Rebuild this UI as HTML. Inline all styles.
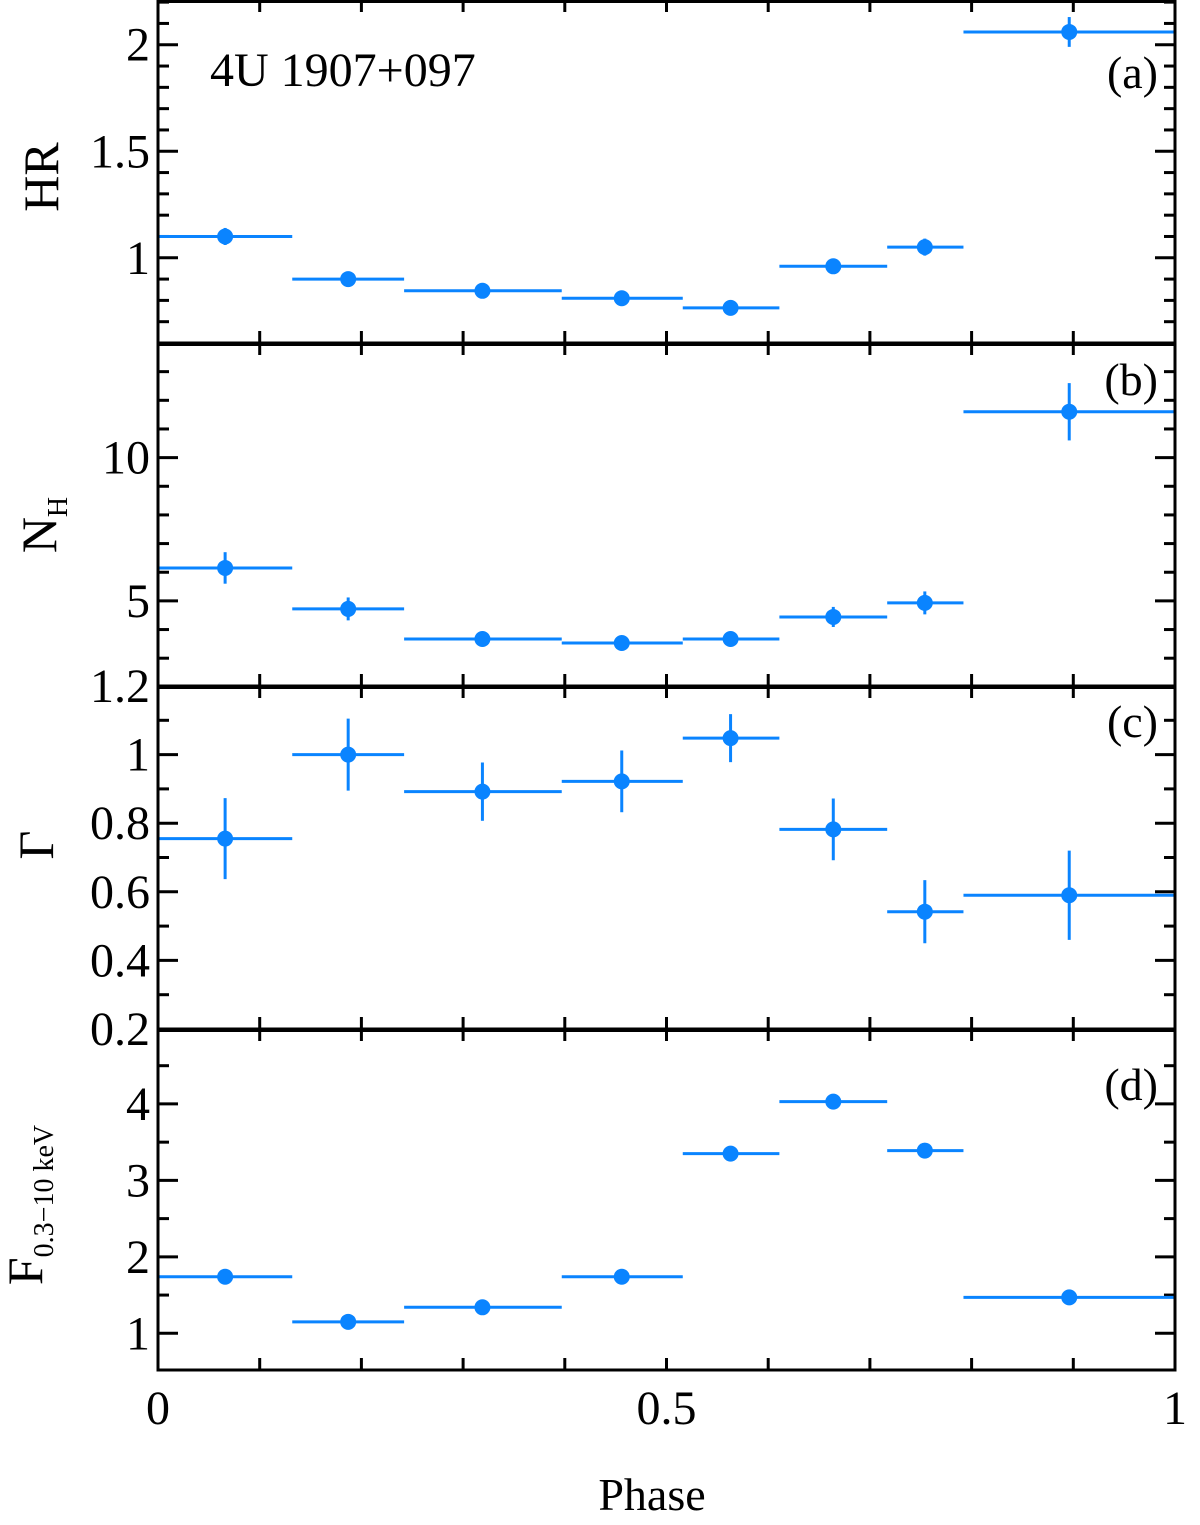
<!DOCTYPE html>
<html><head><meta charset="utf-8"><style>
html,body{margin:0;padding:0;background:#fff;}
svg{display:block;font-family:"Liberation Serif",serif;}
</style></head><body>
<svg id="chart" width="1200" height="1525" viewBox="0 0 1200 1525" xmlns="http://www.w3.org/2000/svg"></svg>
<script>
const binLo = [0, 0.132, 0.242, 0.397, 0.516, 0.611, 0.717, 0.792];
const binHi = [0.132, 0.242, 0.397, 0.516, 0.611, 0.717, 0.792, 1.0];
const phaseCenters = [0.066, 0.187, 0.319, 0.456, 0.563, 0.664, 0.754, 0.896];
const hrValues = [1.10, 0.90, 0.845, 0.81, 0.765, 0.96, 1.05, 2.06];
const hrErrors = [0.04, 0.03, 0.03, 0.03, 0.02, 0.03, 0.04, 0.07];
const nhValues = [6.15, 4.72, 3.67, 3.53, 3.67, 4.44, 4.93, 11.6];
const nhErrors = [0.55, 0.4, 0.25, 0.25, 0.25, 0.35, 0.4, 1.0];
const gammaValues = [0.755, 1.0, 0.892, 0.922, 1.048, 0.782, 0.542, 0.59];
const gammaErrors = [0.118, 0.105, 0.085, 0.09, 0.07, 0.09, 0.092, 0.13];
const fluxValues = [1.74, 1.15, 1.34, 1.74, 3.35, 4.03, 3.39, 1.47];
const fluxErrors = [0.04, 0.03, 0.03, 0.04, 0.06, 0.08, 0.06, 0.04];
const xTicks = [0, 0.5, 1];
const xTickLabels = ["0", "0.5", "1"];

const NS = "http://www.w3.org/2000/svg";
const svg = document.getElementById("chart");
const X0 = 158, X1 = 1175;
const xs = v => X0 + v * (X1 - X0);
function el(tag, attrs, parent) {
  const e = document.createElementNS(NS, tag);
  for (const k in attrs) e.setAttribute(k, attrs[k]);
  (parent || svg).appendChild(e);
  return e;
}
const panels = [
  {key:"hr", top:0, bot:343, min:0.6, max:2.21, vals:hrValues, errs:hrErrors, major:[1,1.5,2], labels:["1","1.5","2"], minor:0.1, tag:"(a)", tagY:88},
  {key:"nh", top:343, bot:686, min:2.03, max:14.0, vals:nhValues, errs:nhErrors, major:[5,10], labels:["5","10"], minor:1, tag:"(b)", tagY:52},
  {key:"gamma", top:686, bot:1029, min:0.2, max:1.2, vals:gammaValues, errs:gammaErrors, major:[0.2,0.4,0.6,0.8,1,1.2], labels:["0.2","0.4","0.6","0.8","1","1.2"], minor:0.1, tag:"(c)", tagY:51},
  {key:"flux", top:1029, bot:1370, min:0.52, max:4.98, vals:fluxValues, errs:fluxErrors, major:[1,2,3,4], labels:["1","2","3","4"], minor:0.5, tag:"(d)", tagY:71}
];
panels.forEach((p, pi) => {
  const g = el("g", {});
  
  
  const ys = v => p.bot - (v - p.min) / (p.max - p.min) * (p.bot - p.top);
  for (let t = 0.1; t < 0.999; t += 0.1) {
    const x = xs(t);
    el("line", {x1:x, x2:x, y1:p.top, y2:p.top + 12, stroke:"#000", "stroke-width":3}, g);
    el("line", {x1:x, x2:x, y1:p.bot, y2:p.bot - 12, stroke:"#000", "stroke-width":3}, g);
  }
  const start = Math.ceil(p.min / p.minor - 1e-6) * p.minor;
  for (let v = start; v <= p.max + 1e-6; v += p.minor) {
    const y = ys(v);
    const isMaj = p.major.some(m => Math.abs(m - v) < 1e-6);
    const L = isMaj ? 20 : 11;
    el("line", {x1:X0, x2:X0 + L, y1:y, y2:y, stroke:"#000", "stroke-width":3}, g);
    el("line", {x1:X1, x2:X1 - L, y1:y, y2:y, stroke:"#000", "stroke-width":3}, g);
  }
  p.major.forEach((m, i) => {
    const t = el("text", {x:X0 - 8, y:ys(m) + 16, "text-anchor":"end", "font-size":48}, g);
    t.textContent = p.labels[i];
  });
  p.vals.forEach((v, i) => {
    const y = ys(v), xc = xs(phaseCenters[i]);
    const pt = el("g", {}, g);
    
    
    el("line", {x1:xs(binLo[i]), x2:xs(binHi[i]), y1:y, y2:y, stroke:"#0a84ff", "stroke-width":3}, pt);
    el("line", {x1:xc, x2:xc, y1:ys(v - p.errs[i]), y2:ys(v + p.errs[i]), stroke:"#0a84ff", "stroke-width":3}, pt);
    el("circle", {cx:xc, cy:y, r:8, fill:"#0a84ff"}, pt);
  });
  el("rect", {x:X0, y:p.top + 1.5, width:X1 - X0, height:p.bot - p.top - 1.5, fill:"none", stroke:"#000", "stroke-width":3}, g);
  const tg = el("text", {x:1158, y:p.top + p.tagY, "text-anchor":"end", "font-size":46}, g);
  
  
  tg.textContent = p.tag;
});
xTicks.forEach((t, i) => {
  const tx = el("text", {x:xs(t), y:1424, "text-anchor":"middle", "font-size":48});
  
  
  tx.textContent = xTickLabels[i];
});
const src = el("text", {x:210, y:86, "font-size":48});


src.textContent = "4U 1907+097";
const xt = el("text", {x:652, y:1510, "text-anchor":"middle", "font-size":46});


xt.textContent = "Phase";
</script>
<div style="position:absolute;left:0;top:0;width:1200px;height:1525px;pointer-events:none;font-family:'Liberation Serif',serif;">
  <div style="position:absolute;left:-4px;top:147px;font-size:50px;line-height:60px;transform:rotate(-90deg);width:90px;text-align:center;">HR</div>
  <div style="position:absolute;left:-6px;top:485px;font-size:50px;line-height:60px;transform:rotate(-90deg);width:110px;text-align:center;">N<sub style="font-size:28px;">H</sub></div>
  <div style="position:absolute;left:11px;top:815px;font-size:50px;line-height:60px;transform:rotate(-90deg);width:50px;text-align:center;">Γ</div>
  <div style="position:absolute;left:-85px;top:1165px;font-size:50px;line-height:60px;transform:rotate(-90deg);width:240px;text-align:center;white-space:nowrap;">F<sub style="font-size:28px;">0.3−10 keV</sub></div>
</div>
</body></html>
